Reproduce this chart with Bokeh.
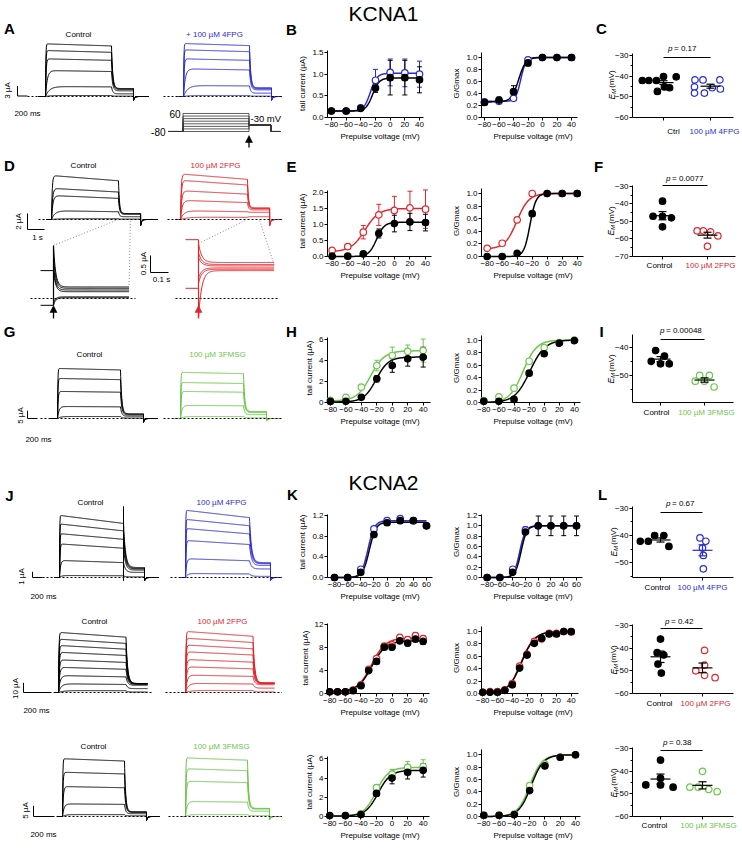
import numpy as np
from bokeh.plotting import figure
from bokeh.models import Range1d, FixedTicker, NumeralTickFormatter
from bokeh.layouts import row, column
from bokeh.embed import file_html
from bokeh.resources import INLINE
from bokeh.core.properties import value

FONT = "Liberation Sans"
BLK = "#000000"; BLU = "#2b2bd6"; RED = "#e1262c"; GRN = "#6cc64a"; GRY = "#8a8a8a"

# ======================= DATA =======================
V_20 = [-80, -60, -40, -20, 0, 20, 40]
V_20x = [-80, -60, -40, -20, 0, 20, 40, 60]
V_10 = [-80, -70, -60, -50, -40, -30, -20, -10, 0, 10, 20, 30, 40]
V_STEPS = [-80, -60, -40, -20, 0, 20, 40, 60]

# ---- KCNA1 + 4FPG ----
B_tail_ctl = [0.15, 0.15, 0.21, 0.68, 0.92, 0.92, 0.87]
B_tail_ctl_err = [0.01, 0.01, 0.02, 0.10, 0.40, 0.40, 0.30]
B_tail_drg = [0.15, 0.15, 0.22, 0.86, 1.04, 1.03, 1.00]
B_tail_drg_err = [0.01, 0.01, 0.02, 0.25, 0.31, 0.32, 0.30]
B_fit_ctl = (0.15, 0.91, -24.0, 4.5)
B_fit_drg = (0.15, 1.02, -27.0, 4.5)
B_g_ctl = [0.25, 0.29, 0.43, 0.91, 1.0, 1.0, 1.0]
B_g_ctl_err = [0.03, 0.05, 0.10, 0.05, 0.01, 0.01, 0.01]
B_g_drg = [0.26, 0.27, 0.32, 0.96, 1.0, 1.0, 1.0]
B_g_drg_err = [0.02, 0.03, 0.03, 0.02, 0.01, 0.01, 0.01]
B_gfit_ctl = (0.26, 1.0, -33.0, 5.0)
B_gfit_drg = (0.27, 1.0, -30.0, 3.5)
C_ctl = [-42.1, -42.1, -42.1, -40.2, -45.2, -45.6, -47.4, -40.3]
C_ctl_jit = [-0.45, -0.31, -0.15, 0.0, 0.02, 0.13, -0.13, 0.27]
C_drg = [-41.8, -41.8, -41.8, -45.2, -48.2, -45.6, -46.2, -48.2]
C_drg_jit = [-0.33, -0.16, 0.20, -0.34, -0.34, 0.04, 0.21, -0.13]

# ---- KCNA1 + 2FPG ----
E_tail_ctl = [0.01, 0.01, 0.08, 0.72, 1.03, 1.08, 1.06]
E_tail_ctl_err = [0.01, 0.01, 0.03, 0.14, 0.26, 0.27, 0.26]
E_tail_drg = [0.19, 0.31, 0.76, 1.30, 1.44, 1.52, 1.48]
E_tail_drg_err = [0.04, 0.06, 0.21, 0.33, 0.44, 0.52, 0.60]
E_fit_ctl = (0.0, 1.07, -23.0, 5.0)
E_fit_drg = (0.15, 1.50, -38.0, 9.0)
E_g_ctl = [0.0, 0.0, 0.05, 0.68, 1.0, 1.0, 1.0]
E_g_ctl_err = [0.0, 0.0, 0.01, 0.04, 0.0, 0.0, 0.0]
E_g_drg = [0.13, 0.21, 0.58, 1.0, 1.0, 1.0, 1.0]
E_g_drg_err = [0.01, 0.02, 0.04, 0.02, 0.0, 0.0, 0.0]
E_gfit_ctl = (0.0, 1.0, -23.0, 4.0)
E_gfit_drg = (0.12, 1.0, -40.5, 8.0)
F_ctl = [-47.1, -38.5, -47.1, -53.1, -48.0]
F_ctl_jit = [-0.21, 0.0, 0.0, 0.0, 0.2]
F_drg = [-55.4, -55.4, -56.0, -58.3, -64.2]
F_drg_jit = [-0.23, -0.09, 0.07, 0.23, 0.0]

# ---- KCNA1 + 3FMSG ----
H_tail_ctl = [0.10, 0.12, 0.50, 2.27, 3.54, 4.18, 4.34]
H_tail_ctl_err = [0.03, 0.04, 0.12, 0.30, 0.65, 0.70, 0.95]
H_tail_drg = [0.20, 0.50, 1.47, 3.54, 4.50, 4.90, 4.97]
H_tail_drg_err = [0.04, 0.10, 0.25, 0.50, 0.80, 0.60, 1.10]
H_fit_ctl = (0.05, 4.35, -21.0, 8.0)
H_fit_drg = (0.15, 4.95, -28.0, 9.0)
H_g_ctl = [0.02, 0.02, 0.05, 0.47, 0.78, 0.95, 0.99]
H_g_ctl_err = [0.0, 0.0, 0.01, 0.03, 0.03, 0.01, 0.0]
H_g_drg = [0.03, 0.09, 0.23, 0.66, 0.88, 0.95, 1.0]
H_g_drg_err = [0.0, 0.01, 0.02, 0.03, 0.02, 0.01, 0.0]
H_gfit_ctl = (0.0, 1.0, -19.0, 10.0)
H_gfit_drg = (0.0, 1.0, -28.0, 9.0)
I_ctl = [-44.9, -41.0, -43.0, -45.8, -45.8]
I_ctl_jit = [-0.21, -0.11, 0.09, 0.0, 0.20]
I_drg = [-52.1, -50.0, -52.1, -50.0, -54.2]
I_drg_jit = [-0.21, -0.11, 0.0, 0.11, 0.22]

# ---- KCNA2 + 4FPG ----
K1_tail_ctl = [0.0, 0.0, 0.10, 0.83, 1.06, 1.10, 1.10, 1.00]
K1_tail_ctl_err = [0.0, 0.0, 0.01, 0.04, 0.04, 0.05, 0.04, 0.02]
K1_tail_drg = [0.0, 0.0, 0.16, 0.94, 1.10, 1.14, 1.10, 1.00]
K1_tail_drg_err = [0.0, 0.0, 0.02, 0.03, 0.03, 0.04, 0.04, 0.02]
K1_fit_ctl = (0.0, 1.07, -27.0, 5.0)
K1_fit_drg = (0.0, 1.10, -29.0, 5.0)
K1_g_ctl = [0.0, 0.0, 0.10, 0.88, 1.0, 1.0, 1.0, 1.0]
K1_g_ctl_err = [0.0, 0.0, 0.01, 0.04, 0.19, 0.19, 0.19, 0.19]
K1_g_drg = [0.0, 0.0, 0.16, 0.92, 1.0, 1.0, 1.0, 1.0]
K1_g_drg_err = [0.0, 0.0, 0.02, 0.06, 0.0, 0.0, 0.0, 0.0]
K1_gfit_ctl = (0.0, 1.0, -27.0, 4.5)
K1_gfit_drg = (0.0, 1.0, -29.0, 4.5)
L1_ctl = [-42.1, -42.1, -40.0, -40.0, -44.0]
L1_ctl_jit = [-0.48, -0.29, -0.14, 0.08, 0.20]
L1_drg = [-40.9, -42.1, -44.6, -47.3, -52.2]
L1_drg_jit = [-0.06, 0.08, 0.0, 0.02, 0.02]

# ---- KCNA2 + 2FPG ----
K2_tail_ctl = [0.3, 0.3, 0.3, 0.5, 1.35, 4.0, 5.6, 8.1, 8.1, 9.2, 8.8, 9.5, 9.1]
K2_tail_ctl_err = [0.1, 0.1, 0.1, 0.1, 0.2, 0.3, 0.3, 0.4, 0.5, 0.5, 0.5, 0.5, 0.5]
K2_tail_drg = [0.3, 0.3, 0.3, 0.6, 1.5, 4.2, 6.1, 8.3, 8.5, 9.8, 9.4, 10.1, 9.6]
K2_tail_drg_err = [0.1, 0.1, 0.1, 0.1, 0.2, 0.3, 0.3, 0.4, 0.5, 0.5, 0.5, 0.5, 0.5]
K2_fit_ctl = (0.3, 9.2, -26.0, 9.0)
K2_fit_drg = (0.3, 9.7, -26.5, 9.0)
K2_g_ctl = [0.02, 0.02, 0.02, 0.05, 0.14, 0.41, 0.62, 0.81, 0.89, 0.96, 0.96, 1.0, 1.0]
K2_g_drg = [0.02, 0.03, 0.03, 0.06, 0.16, 0.44, 0.63, 0.84, 0.88, 0.97, 0.97, 1.0, 0.99]
K2_g_err = [0.0] * 13
K2_gfit_ctl = (0.0, 1.0, -27.5, 9.0)
K2_gfit_drg = (0.0, 1.0, -28.0, 9.0)
L2_ctl = [-36.0, -42.0, -43.0, -47.0, -51.0]
L2_ctl_jit = [0.0, -0.08, 0.08, -0.06, 0.02]
L2_drg = [-41.0, -50.0, -47.5, -52.0, -53.0]
L2_drg_jit = [0.05, -0.16, 0.05, 0.05, 0.30]

# ---- KCNA2 + 3FMSG ----
K3_tail_ctl = [0.1, 0.1, 0.2, 2.4, 4.0, 4.6, 4.8]
K3_tail_ctl_err = [0.03, 0.03, 0.05, 0.3, 0.6, 0.7, 0.7]
K3_tail_drg = [0.1, 0.1, 0.28, 3.0, 4.4, 5.1, 5.2]
K3_tail_drg_err = [0.03, 0.03, 0.05, 0.3, 0.5, 0.6, 0.7]
K3_fit_ctl = (0.05, 4.8, -18.0, 8.0)
K3_fit_drg = (0.05, 5.1, -20.5, 8.0)
K3_g_ctl = [0.02, 0.02, 0.03, 0.42, 0.82, 0.96, 1.0]
K3_g_drg = [0.02, 0.02, 0.04, 0.50, 0.85, 0.96, 1.0]
K3_g_err = [0.0] * 7
K3_gfit_ctl = (0.0, 1.0, -18.0, 8.0)
K3_gfit_drg = (0.0, 1.0, -20.0, 8.0)
L3_ctl = [-46.0, -35.0, -43.0, -46.0, -47.0]
L3_ctl_jit = [-0.35, 0.0, 0.0, 0.0, 0.30]
L3_drg = [-40.0, -47.0, -47.0, -48.0, -49.0]
L3_drg_jit = [0.0, -0.30, -0.10, 0.15, 0.35]

P_VALUES = ["0.17", "0.0077", "0.00048", "0.67", "0.42", "0.38"]

# ---- current trace families: step amplitude (uA), activation tau (ms), tail level (uA) ----
A_amp_ctl = [15.8, 13.8, 11.3, 7.8, 3.0, 0.3]
A_amp_drg = [15.9, 14.0, 11.3, 8.3, 3.3, 0.3]
A_tau = [6, 8, 12, 35, 80, 100]
A_tail_ctl = [2.4, 2.3, 2.1, 1.7, 0.8, 0.1]
A_tail_drg = [2.6, 2.5, 2.3, 2.0, 1.0, 0.1]
D_amp_ctl = [5.5, 3.9, 3.0, 1.1, 0.1]
D_amp_drg = [5.7, 4.9, 3.6, 2.4, 1.1, 0.3]
D_tau_ctl = [40, 60, 80, 200, 400]
D_tau_drg = [40, 50, 70, 100, 200, 400]
D_tail_ctl = [0.75, 0.72, 0.65, 0.35, 0.05]
D_tail_drg = [1.45, 1.40, 1.35, 1.20, 0.90, 0.35]
INS_pre_ctl = [0.82, -0.2]
INS_init_ctl = [1.56, 1.25, 0.95, 0.82, -0.12, -0.2]
INS_fin_ctl = [0.34, 0.30, 0.25, 0.20, 0.05, 0.02]
INS_pre_drg = [1.73, 0.30]
INS_init_drg = [1.62, 1.35, 1.20, 0.60, 0.45, -0.56]
INS_fin_drg = [1.06, 1.00, 0.96, 0.90, 0.86, 0.82]
G_amp_ctl = [32.5, 26.0, 17.6, 7.8, 1.3]
G_amp_drg = [30.0, 23.4, 17.6, 8.5, 1.3]
G_tau = [6, 8, 12, 30, 60]
G_tail_ctl = [3.0, 2.8, 2.3, 1.5, 0.3]
G_tail_drg = [4.5, 4.3, 3.8, 2.5, 0.4]
J1_amp_ctl = [10.9, 9.4, 7.7, 5.9, 3.0, 0.35]
J1_amp_drg = [11.8, 10.2, 8.6, 6.5, 3.3, 0.7]
J1_tau = [4, 5, 7, 10, 20, 40]
J1_tail_ctl = [1.75, 1.6, 1.5, 1.3, 0.9, 0.1]
J1_tail_drg = [2.6, 2.5, 2.4, 2.1, 1.5, 0.2]
J2_amp_ctl = [62, 55, 48.5, 41.5, 33.7, 26, 17.5, 9, 2]
J2_amp_drg = [63, 56, 49, 42, 34, 26.5, 18, 9.5, 2.2]
J2_tau = [3, 3, 4, 5, 6, 8, 12, 20, 40]
J2_tail_ctl = [9.3, 9.2, 9.1, 9.0, 8.8, 8.5, 7.5, 4.0, 0.5]
J2_tail_drg = [9.8, 9.7, 9.6, 9.5, 9.3, 9.0, 8.0, 4.5, 0.6]
J3_amp_ctl = [27, 20.7, 14, 5.9, 0.9]
J3_amp_drg = [27.4, 22.3, 16.5, 7, 0.9]
J3_tau = [3, 5, 8, 15, 30]
J3_tail_ctl = [2.2, 2.1, 1.9, 1.3, 0.3]
J3_tail_drg = [3.8, 3.7, 3.5, 2.5, 0.4]

# ======================= GRID (page px) =======================
COLS = [0, 282, 445, 592, 742]
BANDS = [0, 152, 322, 447, 604, 724, 853]
FX = [(0, 282), (327, 432), (481, 584), (632, 737)]
FY = [(49, 117), (185, 256), (333, 402), (506, 577), (622, 693), (747, 816)]
OV = dict(level="overlay")


def boltz(v, prm):
    b, t, v50, k = prm
    v = np.asarray(v, float)
    return b + (t - b) / (1.0 + np.exp((v50 - v) / k))


def sweep(A, tau, tail, T, TT, pre, post, dip, tau_d, inact, tau_dip=15.0):
    t1 = np.linspace(0.0, T, 160)
    i1 = A * (1.0 - np.exp(-t1 / tau)) * (1.0 - inact * t1 / T)
    t2 = np.linspace(T, T + TT, 120)
    i2 = tail + (i1[-1] - tail) * np.exp(-(t2 - T) / tau_d)
    ts = [np.array([-pre]), t1, t2]
    ys = [np.array([0.0]), i1, i2]
    if post > 0:
        t3 = np.linspace(T + TT, T + TT + post, 60)
        ts.append(t3)
        ys.append(dip * np.exp(-(t3 - T - TT) / tau_dip))
    return np.concatenate(ts).tolist(), np.concatenate(ys).tolist()


def base_fig(ci, bi, **kw):
    L, R = COLS[ci], COLS[ci + 1]
    T, B = BANDS[bi], BANDS[bi + 1]
    fl, fr = FX[ci]
    ft, fb = FY[bi]
    p = figure(width=R - L, height=B - T, output_backend="svg", toolbar_location=None,
               min_border_left=fl - L, min_border_right=R - fr,
               min_border_top=ft - T, min_border_bottom=B - fb, **kw)
    p.outline_line_color = None
    p.background_fill_color = "white"
    p.border_fill_color = "white"
    p.title.visible = False
    p.xgrid.visible = False
    p.ygrid.visible = False
    return p


def txt(p, x, y, s, size="8px", color=BLK, align="center", style="normal", angle=0.0,
        baseline="middle", **kw):
    p.text(x=[x], y=[y], text=[s], text_font=value(FONT), text_font_size=value(size),
           text_color=color, text_align=align, text_baseline=baseline, text_font_style=style,
           angle=angle, level="overlay", **kw)


class Cal:
    """origin (page px) and px per data unit for a trace sub-panel"""
    def __init__(self, x0, xs, y0, ys):
        self.x0, self.xs, self.y0, self.ys = x0, xs, y0, ys

    def rx(self, L, R):
        return Range1d((L - self.x0) / self.xs, (R - self.x0) / self.xs)

    def ry(self, T, B):
        return Range1d((self.y0 - B) / self.ys, (self.y0 - T) / self.ys)

    def dx(self, X):
        return (X - self.x0) / self.xs

    def dy(self, Y):
        return (self.y0 - Y) / self.ys

    def ref(self, x, y):
        return self.x0 + x * self.xs, self.y0 - y * self.ys


class TraceFig:
    def __init__(self, bi, cals):
        fl, fr = FX[0]
        ft, fb = FY[bi]
        self.cals = cals
        self.p = base_fig(0, bi, x_range=Range1d(fl, fr), y_range=Range1d(fb, ft),
                          x_axis_type=None, y_axis_type=None)
        self.p.extra_x_ranges = {k: c.rx(fl, fr) for k, c in cals.items()}
        self.p.extra_y_ranges = {k: c.ry(ft, fb) for k, c in cals.items()}

    def family(self, name, amps, taus, tails, proto, color, lw=1.0):
        xs, ys = [], []
        for A, tau, tl in zip(amps, taus, tails):
            t, i = sweep(A, tau, tl, **proto)
            xs.append(t)
            ys.append(i)
        self.p.multi_line(xs, ys, x_range_name=name, y_range_name=name,
                          line_color=color, line_width=lw, **OV)

    def baseline(self, name, xa, xb, color=BLK):
        c = self.cals[name]
        self.p.line([c.dx(xa), c.dx(xb)], [0, 0], x_range_name=name, y_range_name=name,
                    line_color=color, line_dash="2 2", line_width=1, **OV)

    def scalebar(self, name, corner, dt, di):
        c = self.cals[name]
        x0, y0 = c.dx(corner[0]), c.dy(corner[1])
        self.p.line([x0, x0, x0 + dt], [y0 + di, y0, y0], x_range_name=name,
                    y_range_name=name, line_color=BLK, line_width=1, **OV)

    def arrow(self, x, y_tip, length, color):
        self.p.line([x, x], [y_tip + length, y_tip + 5], line_color=color, line_width=1.3, **OV)
        self.p.patch([x - 3.5, x + 3.5, x], [y_tip + 7, y_tip + 7, y_tip], fill_color=color,
                     line_color=color, line_width=0.5, **OV)


class AP:
    def __init__(self, ci, bi, xcal, x_end, ycal, y_end):
        fl, fr = FX[ci]
        ft, fb = FY[bi]
        v1, r1, v2, r2 = xcal
        w1, s1, w2, s2 = ycal
        self.v1, self.r1, self.ppx = v1, r1, (r2 - r1) / (v2 - v1)
        self.w1, self.s1, self.ppy = w1, s1, (s1 - s2) / (w2 - w1)
        self.p = base_fig(ci, bi, x_range=Range1d(self.dx(fl), self.dx(fr)),
                          y_range=Range1d(self.dy(fb), self.dy(ft)))
        self.p.xaxis.bounds = (self.dx(fl), self.dx(x_end))
        self.p.yaxis.bounds = (self.dy(fb), self.dy(y_end))

    def dx(self, X):
        return self.v1 + (X - self.r1) / self.ppx

    def dy(self, Y):
        return self.w1 + (self.s1 - Y) / self.ppy


def style_axis(ax, labels=True):
    ax.axis_line_color = BLK
    ax.axis_line_width = 1
    ax.major_tick_line_color = BLK
    ax.major_tick_out = 3
    ax.major_tick_in = 0
    ax.minor_tick_line_color = BLK
    ax.minor_tick_out = 2
    ax.minor_tick_in = 0
    ax.major_label_text_font = FONT
    ax.major_label_text_font_size = "8px"
    ax.major_label_text_color = BLK if labels else None
    ax.axis_label_text_font = FONT
    ax.axis_label_text_font_size = "8px"
    ax.axis_label_text_font_style = "normal"
    ax.axis_label_text_color = BLK
    ax.major_label_standoff = 1
    ax.axis_label_standoff = 2


def xy_panel(ci, bi, xcal, x_end, ycal, y_end, xticks, yticks, yfmt, ylabel, vx, series, vfit):
    ap = AP(ci, bi, xcal, x_end, ycal, y_end)
    p = ap.p
    p.xaxis.ticker = FixedTicker(ticks=xticks, minor_ticks=[])
    p.yaxis.ticker = FixedTicker(ticks=yticks, minor_ticks=[])
    p.yaxis.formatter = NumeralTickFormatter(format=yfmt)
    p.xaxis.axis_label = "Prepulse voltage (mV)"
    p.yaxis.axis_label = ylabel
    style_axis(p.xaxis[0])
    style_axis(p.yaxis[0])
    vv = np.linspace(vfit[0], vfit[1], 240)
    cap = 2.5 / ap.ppx
    for ys, err, fit, color, filled in series:
        p.line(vv.tolist(), boltz(vv, fit).tolist(), line_color=color, line_width=1.5, **OV)
    for ys, err, fit, color, filled in series:
        lo = [y - e for y, e in zip(ys, err)]
        hi = [y + e for y, e in zip(ys, err)]
        p.segment(vx, lo, vx, hi, line_color=color, line_width=1, **OV)
        xl = [v - cap for v in vx]
        xh = [v + cap for v in vx]
        p.segment(xl, lo, xh, lo, line_color=color, line_width=1, **OV)
        p.segment(xl, hi, xh, hi, line_color=color, line_width=1, **OV)
    for ys, err, fit, color, filled in series:
        p.scatter(vx, ys, marker="circle", size=6.5, line_color=color, line_width=1.2,
                  fill_color=color if filled else "white", **OV)
    return ap


def em_label(ap, xc, yc):
    p = ap.p
    txt(p, ap.dx(xc), ap.dy(yc + 15), "E", size="8.5px", style="italic", align="left",
        angle=np.pi / 2)
    txt(p, ap.dx(xc + 2.2), ap.dy(yc + 9.6), "M", size="6px", style="italic", align="left",
        angle=np.pi / 2)
    txt(p, ap.dx(xc), ap.dy(yc + 3.2), "(mV)", size="8px", align="left", angle=np.pi / 2)


def em_panel(ci, bi, xcal, x_end, ycal, y_end, yticks, yminor, ctl, cj, drg, dj, color,
             labels, lab_x, lab_y, pval, pj, pty, ply, em_xy, bar_col=BLK):
    ap = AP(ci, bi, xcal, x_end, ycal, y_end)
    p = ap.p
    p.xaxis.ticker = FixedTicker(ticks=[1, 2], minor_ticks=[])
    p.yaxis.ticker = FixedTicker(ticks=yticks, minor_ticks=yminor)
    style_axis(p.xaxis[0], labels=False)
    style_axis(p.yaxis[0])
    hw = 10.0 / ap.ppx
    cw = 4.0 / ap.ppx
    groups = [(ctl, cj, 1.0, BLK, True, BLK), (drg, dj, 2.0, color, False, bar_col)]
    for vals, jit, cx, col, filled, bc in groups:
        m = float(np.mean(vals))
        s = float(np.std(vals, ddof=1) / np.sqrt(len(vals)))
        p.scatter([cx + j for j in jit], vals, marker="circle", size=6.5, line_color=col,
                  line_width=1.2, fill_color=col if filled else "white", **OV)
        p.segment([cx - hw], [m], [cx + hw], [m], line_color=bc, line_width=1.2, **OV)
        p.segment([cx], [m - s], [cx], [m + s], line_color=bc, line_width=1.2, **OV)
        p.segment([cx - cw, cx - cw], [m - s, m + s], [cx + cw, cx + cw], [m - s, m + s],
                  line_color=bc, line_width=1.2, **OV)
    txt(p, ap.dx(lab_x[0]), ap.dy(lab_y), labels[0], color=BLK)
    txt(p, ap.dx(lab_x[1]), ap.dy(lab_y), labels[1], color=color)
    p.segment([1.0], [ap.dy(ply)], [2.0], [ap.dy(ply)], line_color=BLK, line_width=1, **OV)
    txt(p, ap.dx(pj), ap.dy(pty), "p", style="italic", align="right")
    txt(p, ap.dx(pj + 1.5), ap.dy(pty), "= " + pval, align="left")
    em_label(ap, em_xy[0], em_xy[1])
    return ap


def letter(p, x, y, s):
    txt(p, x, y, s, size="15px", style="bold")


rows = []

# ---------------- Band 1 : A / B / C ----------------
cA = Cal(45, 0.05, 96, 1 / 0.3)
cAd = Cal(183, 0.05, 96, 1 / 0.3)
cAp = Cal(182.5, 0.05, 120.7, 0.1286)
tf = TraceFig(0, {"c": cA, "d": cAd, "v": cAp})
protoA = dict(T=1320, TT=440, pre=140, post=300, dip=-1.2, tau_d=25, inact=0.04, tau_dip=20)
tf.family("c", A_amp_ctl, A_tau, A_tail_ctl, protoA, BLK)
tf.family("d", A_amp_drg, A_tau, A_tail_drg, protoA, BLU)
tf.baseline("c", 27, 148)
tf.baseline("d", 163, 287)
vx, vy = [], []
for V in V_STEPS:
    vx.append([cAp.dx(168), 0, 0, 1320, 1320, 1760, 1760, cAp.dx(280)])
    vy.append([-80, -80, V, V, -30, -30, -80, -80])
tf.p.multi_line(vx, vy, x_range_name="v", y_range_name="v", line_color="#333333",
                line_width=0.8, **OV)
txt(tf.p, 180, 113, "60", size="10px", align="right")
txt(tf.p, 165, 131.5, "-80", size="10px", align="right")
txt(tf.p, 250, 118, "-30 mV", size="9.5px", align="left")
tf.arrow(cAp.ref(1320, 0)[0], 135, 12, BLK)
tf.scalebar("c", (17, 95.5), 200, 3)
txt(tf.p, 7, 90, "3 µA", angle=np.pi / 2)
txt(tf.p, 27, 113, "200 ms")
txt(tf.p, 78, 34, "Control")
txt(tf.p, 214, 34, "+ 100 µM 4FPG", color=BLU)
letter(tf.p, 9, 28, "A")

apB = xy_panel(1, 0, (-80, 331, 40, 419), 423, (0, 117, 1.5, 52), 50, V_20,
               [0, 0.5, 1.0, 1.5], "0.0", "tail current (µA)", V_20,
               [(B_tail_drg, B_tail_drg_err, B_fit_drg, BLU, False),
                (B_tail_ctl, B_tail_ctl_err, B_fit_ctl, BLK, True)], (-80, 40))
letter(apB.p, apB.dx(291), apB.dy(29), "B")
txt(apB.p, apB.dx(383), apB.dy(12.5), "KCNA1", size="21px")
apGB = xy_panel(2, 0, (-80, 484, 40, 571), 577, (0, 117, 1, 57), 52, V_20,
                [0, 0.2, 0.4, 0.6, 0.8, 1.0], "0.0", "G/Gmax", V_20,
                [(B_g_drg, B_g_drg_err, B_gfit_drg, BLU, False),
                 (B_g_ctl, B_g_ctl_err, B_gfit_ctl, BLK, True)], (-80, 40))
apC = em_panel(3, 0, (1, 663, 2, 710), 733, (-60, 117, -30, 55), 53,
               [-30, -40, -50, -60], [-35, -45, -55], C_ctl, C_ctl_jit, C_drg, C_drg_jit, BLU,
               ["Ctrl", "100 µM 4FPG"], (673, 714), 131, P_VALUES[0], 672, 48, 57, (611, 84))
letter(apC.p, apC.dx(601), apC.dy(28), "C")
rows.append(row(tf.p, apB.p, apGB.p, apC.p))

# ---------------- Band 2 : D / E / F ----------------
cD = Cal(51, 0.017, 219, 8.0)
cDd = Cal(180, 0.017, 219, 8.0)
cI1 = Cal(53, 0.18, 298, 34.0)
cI2 = Cal(198, 0.18, 298, 34.0)
tf = TraceFig(1, {"c": cD, "d": cDd, "i1": cI1, "i2": cI2})
protoD = dict(T=3940, TT=1300, pre=300, post=1000, dip=-0.75, tau_d=60, inact=0.12, tau_dip=60)
tf.family("c", D_amp_ctl, D_tau_ctl, D_tail_ctl, protoD, BLK)
tf.family("d", D_amp_drg, D_tau_drg, D_tail_drg, protoD, RED)
tf.baseline("c", 38, 158)
tf.baseline("d", 167, 283)
tf.scalebar("c", (27, 229), 1000, 2)
txt(tf.p, 18, 221, "2 µA", angle=np.pi / 2)
txt(tf.p, 37, 237, "1 s")
txt(tf.p, 83, 165, "Control")
txt(tf.p, 215, 165, "100 µM 2FPG", color=RED)
letter(tf.p, 9, 165, "D")
tt = np.linspace(0, 420, 150)
for nm, pre, init, fin, tau, col, xa, xb in [
        ("i1", INS_pre_ctl, INS_init_ctl, INS_fin_ctl, 12.0, BLK, 30, 135),
        ("i2", INS_pre_drg, INS_init_drg, INS_fin_drg, 18.0, RED, 175, 279)]:
    tf.baseline(nm, xa, xb)
    xs = [[-72, 0] for _ in pre] + [tt.tolist() for _ in init]
    ys = [[v, v] for v in pre] + [(f + (a - f) * np.exp(-tt / tau)).tolist()
                                  for a, f in zip(init, fin)]
    tf.p.multi_line(xs, ys, x_range_name=nm, y_range_name=nm, line_color=col, line_width=1,
                    **OV)
    lo = min(pre + init)
    hi = max(pre + init)
    tf.p.line([0, 0], [lo, hi], x_range_name=nm, y_range_name=nm, line_color=col,
              line_width=1.2, **OV)
    xr_, _ = tf.cals[nm].ref(0, 0)
    tf.arrow(xr_, 305, 13, col)
tf.scalebar("i1", (150, 272), 100, 0.5)
txt(tf.p, 143, 263, "0.5 µA", angle=np.pi / 2)
txt(tf.p, 161, 279, "0.1 s")
for cm, ci_, T_end, ins_top, ins_end_y in [(cD, cI1, 3940, 1.56, 0.40),
                                           (cDd, cI2, 3940, 1.62, 1.0)]:
    a = cm.ref(T_end, 0)
    b = ci_.ref(0, ins_top)
    c = cm.ref(T_end + 700, 0)
    d = ci_.ref(420, ins_end_y)
    tf.p.line([b[0], a[0]], [b[1], a[1]], line_color=GRY, line_dash="1 2", line_width=1, **OV)
    tf.p.line([d[0], c[0]], [d[1], c[1]], line_color=GRY, line_dash="1 2", line_width=1, **OV)

apE = xy_panel(1, 1, (-80, 331.7, 40, 425), 430.5, (0, 256, 2, 192), 190, V_20,
               [0, 0.5, 1.0, 1.5, 2.0], "0.0", "tail current (µA)", V_20,
               [(E_tail_drg, E_tail_drg_err, E_fit_drg, RED, False),
                (E_tail_ctl, E_tail_ctl_err, E_fit_ctl, BLK, True)], (-80, 40))
letter(apE.p, apE.dx(291), apE.dy(166), "E")
apGE = xy_panel(2, 1, (-80, 486.7, 40, 576.7), 583, (0, 256, 1, 193), 188, V_20,
                [0, 0.2, 0.4, 0.6, 0.8, 1.0], "0.0", "G/Gmax", V_20,
                [(E_g_drg, E_g_drg_err, E_gfit_drg, RED, False),
                 (E_g_ctl, E_g_ctl_err, E_gfit_ctl, BLK, True)], (-80, 40))
apF = em_panel(3, 1, (1, 662, 2, 707), 735, (-70, 256, -40, 203.3), 185,
               [-30, -40, -50, -60, -70], [-35, -45, -55, -65], F_ctl, F_ctl_jit, F_drg,
               F_drg_jit, RED, ["Control", "100 µM 2FPG"], (659, 710), 265, P_VALUES[1], 670,
               178, 185, (610.5, 220))
letter(apF.p, apF.dx(598), apF.dy(166), "F")
rows.append(row(tf.p, apE.p, apGE.p, apF.p))

# ---------------- Band 3 : G / H / I ----------------
cG = Cal(57, 0.05, 418, 7.7 / 5)
cGd = Cal(180, 0.05, 418, 7.7 / 5)
tf = TraceFig(2, {"c": cG, "d": cGd})
protoG = dict(T=1260, TT=460, pre=140, post=280, dip=-2.4, tau_d=25, inact=0.03, tau_dip=20)
tf.family("c", G_amp_ctl, G_tau, G_tail_ctl, protoG, BLK)
tf.family("d", G_amp_drg, G_tau, G_tail_drg, dict(protoG, dip=-1.5), GRN)
tf.baseline("c", 40, 157)
tf.baseline("d", 163, 282)
tf.scalebar("c", (27, 418), 200, 5)
txt(tf.p, 20, 415, "5 µA", angle=np.pi / 2)
txt(tf.p, 38, 439, "200 ms")
txt(tf.p, 89, 354, "Control")
txt(tf.p, 217, 354, "100 µM 3FMSG", color=GRN)
letter(tf.p, 9, 331, "G")
apH = xy_panel(1, 2, (-80, 330, 40, 422.7), 430, (0, 402, 6, 339.3), 337, V_20,
               [0, 2, 4, 6], "0", "tail current (µA)", V_20,
               [(H_tail_drg, H_tail_drg_err, H_fit_drg, GRN, False),
                (H_tail_ctl, H_tail_ctl_err, H_fit_ctl, BLK, True)], (-80, 40))
letter(apH.p, apH.dx(291), apH.dy(331), "H")
apGH = xy_panel(2, 2, (-80, 483.3, 40, 574), 580, (0, 402, 1, 339.5), 334.5, V_20,
                [0, 0.2, 0.4, 0.6, 0.8, 1.0], "0.0", "G/Gmax", V_20,
                [(H_g_drg, H_g_drg_err, H_gfit_drg, GRN, False),
                 (H_g_ctl, H_g_ctl_err, H_gfit_ctl, BLK, True)], (-80, 40))
apI = em_panel(3, 2, (1, 660, 2, 704), 733, (-60, 402.5, -40, 347.3), 333.5,
               [-40, -50, -60], [-45, -55], I_ctl, I_ctl_jit, I_drg, I_drg_jit, GRN,
               ["Control", "100 µM 3FMSG"], (656, 706), 412, P_VALUES[2], 664, 330, 339,
               (610.5, 368))
letter(apI.p, apI.dx(601), apI.dy(331), "I")
rows.append(row(tf.p, apH.p, apGH.p, apI.p))

# ---------------- Band 4 : J1 / K1 / L1 ----------------
cJ1 = Cal(59, 0.05, 577, 5.7)
cJ1d = Cal(185, 0.05, 577, 5.7)
tf = TraceFig(3, {"c": cJ1, "d": cJ1d})
protoJ1 = dict(T=1280, TT=420, pre=100, post=280, dip=-0.6, tau_d=40, inact=0.13, tau_dip=20)
tf.family("c", J1_amp_ctl, J1_tau, J1_tail_ctl, protoJ1, BLK)
tf.family("d", J1_amp_drg, J1_tau, J1_tail_drg, dict(protoJ1, inact=0.11, dip=-0.5), BLU)
tf.p.line([1280, 1280], [-0.6, 12.5], x_range_name="c", y_range_name="c", line_color=BLK,
          line_width=1, **OV)
tf.baseline("c", 42, 158)
tf.baseline("d", 170, 285)
tf.scalebar("c", (32, 577), 200, 1)
txt(tf.p, 21, 576, "1 µA", angle=np.pi / 2)
txt(tf.p, 43, 596, "200 ms")
txt(tf.p, 90, 502, "Control")
txt(tf.p, 221, 502, "100 µM 4FPG", color=BLU)
letter(tf.p, 9, 495, "J")
apK1 = xy_panel(1, 3, (-80, 334, 60, 426), 432, (0, 577, 1.2, 515), 513.5, V_20x,
                [0, 0.4, 0.8, 1.2], "0.0", "tail current (µA)", V_20x,
                [(K1_tail_drg, K1_tail_drg_err, K1_fit_drg, BLU, False),
                 (K1_tail_ctl, K1_tail_ctl_err, K1_fit_ctl, BLK, True)], (-80, 60))
letter(apK1.p, apK1.dx(292), apK1.dy(494), "K")
txt(apK1.p, apK1.dx(383), apK1.dy(482), "KCNA2", size="21px")
apGK1 = xy_panel(2, 3, (-80, 486.7, 60, 576), 582, (0, 577, 1.2, 515), 513.5, V_20x,
                 [0, 0.2, 0.4, 0.6, 0.8, 1.0, 1.2], "0.0", "G/Gmax", V_20x,
                 [(K1_g_drg, K1_g_drg_err, K1_gfit_drg, BLU, False),
                  (K1_g_ctl, K1_g_ctl_err, K1_gfit_ctl, BLK, True)], (-80, 60))
apL1 = em_panel(3, 3, (1, 660, 2, 702), 733, (-50, 562.3, -40, 535), 506.4,
                [-30, -40, -50], [-35, -45, -55], L1_ctl, L1_ctl_jit, L1_drg, L1_drg_jit, BLU,
                ["Control", "100 µM 4FPG"], (657, 702), 587, P_VALUES[3], 670, 503, 512,
                (613, 541), bar_col=BLU)
letter(apL1.p, apL1.dx(602), apL1.dy(494), "L")
rows.append(row(tf.p, apK1.p, apGK1.p, apL1.p))

# ---------------- Band 5 : J2 / K2 / L2 ----------------
cJ2 = Cal(58, 0.135, 692, 0.97)
cJ2d = Cal(185, 0.135, 692, 0.97)
tf = TraceFig(4, {"c": cJ2, "d": cJ2d})
protoJ2 = dict(T=500, TT=160, pre=30, post=0, dip=0.0, tau_d=12, inact=0.08)
tf.family("c", J2_amp_ctl, J2_tau, J2_tail_ctl, protoJ2, BLK)
tf.family("d", J2_amp_drg, J2_tau, J2_tail_drg, protoJ2, RED)
tf.baseline("c", 37, 153)
tf.baseline("d", 165, 282)
tf.scalebar("c", (23, 692), 200, 10)
txt(tf.p, 15, 688, "10 µA", angle=np.pi / 2)
txt(tf.p, 36, 710, "200 ms")
txt(tf.p, 94, 621, "Control")
txt(tf.p, 222, 621, "100 µM 2FPG", color=RED)
apK2 = xy_panel(1, 4, (-80, 329.3, 40, 422.7), 429.3, (0, 693, 12, 624.3), 622.6, V_20,
                [0, 4, 8, 12], "0", "tail current (µA)", V_10,
                [(K2_tail_drg, K2_tail_drg_err, K2_fit_drg, RED, False),
                 (K2_tail_ctl, K2_tail_ctl_err, K2_fit_ctl, BLK, True)], (-80, 40))
apGK2 = xy_panel(2, 4, (-80, 482.3, 40, 570.7), 578, (0, 693, 1, 631), 626, V_20,
                 [0, 0.2, 0.4, 0.6, 0.8, 1.0], "0.0", "G/Gmax", V_10,
                 [(K2_g_drg, K2_g_err, K2_gfit_drg, RED, False),
                  (K2_g_ctl, K2_g_err, K2_gfit_ctl, BLK, True)], (-80, 40))
apL2 = em_panel(3, 4, (1, 660, 2, 702), 733, (-60, 693, -30, 625), 623.9,
                [-30, -40, -50, -60], [-35, -45, -55], L2_ctl, L2_ctl_jit, L2_drg, L2_drg_jit,
                RED, ["Control", "100 µM 2FPG"], (659, 705), 703, P_VALUES[4], 669, 621, 628,
                (613, 659))
rows.append(row(tf.p, apK2.p, apGK2.p, apL2.p))

# ---------------- Band 6 : J3 / K3 / L3 ----------------
cJ3 = Cal(62, 0.1, 816, 2.14)
cJ3d = Cal(185, 0.1, 816, 2.14)
tf = TraceFig(5, {"c": cJ3, "d": cJ3d})
protoJ3 = dict(T=620, TT=220, pre=50, post=130, dip=-1.9, tau_d=12, inact=0.04, tau_dip=10)
tf.family("c", J3_amp_ctl, J3_tau, J3_tail_ctl, protoJ3, BLK)
tf.family("d", J3_amp_drg, J3_tau, J3_tail_drg, dict(protoJ3, dip=-1.5), GRN)
tf.baseline("c", 44, 159)
tf.baseline("d", 168, 282)
tf.scalebar("c", (33, 816), 200, 5)
txt(tf.p, 25, 810, "5 µA", angle=np.pi / 2)
txt(tf.p, 43, 834, "200 ms")
txt(tf.p, 93, 746, "Control")
txt(tf.p, 221, 746, "100 µM 3FMSG", color=GRN)
apK3 = xy_panel(1, 5, (-80, 329.3, 40, 422.7), 429.3, (0, 816, 6, 758.3), 756.4, V_20,
                [0, 2, 4, 6], "0", "tail current (µA)", V_20,
                [(K3_tail_drg, K3_tail_drg_err, K3_fit_drg, GRN, False),
                 (K3_tail_ctl, K3_tail_ctl_err, K3_fit_ctl, BLK, True)], (-80, 40))
apGK3 = xy_panel(2, 5, (-80, 483.3, 40, 575), 580, (0, 816, 1, 754.3), 749.4, V_20,
                 [0, 0.2, 0.4, 0.6, 0.8, 1.0], "0.0", "G/Gmax", V_20,
                 [(K3_g_drg, K3_g_err, K3_gfit_drg, GRN, False),
                  (K3_g_ctl, K3_g_err, K3_gfit_ctl, BLK, True)], (-80, 40))
apL3 = em_panel(3, 5, (1, 660, 2, 702), 733, (-60, 816, -30, 748.3), 747.2,
                [-30, -40, -50, -60], [-35, -45, -55], L3_ctl, L3_ctl_jit, L3_drg, L3_drg_jit,
                GRN, ["Control", "100 µM 3FMSG"], (654, 708), 825, P_VALUES[5], 667, 742, 750,
                (613, 782))
rows.append(row(tf.p, apK3.p, apGK3.p, apL3.p))

page = column(*rows)
open("out.html", "w").write(file_html(page, INLINE, "KCNA1 / KCNA2"))
